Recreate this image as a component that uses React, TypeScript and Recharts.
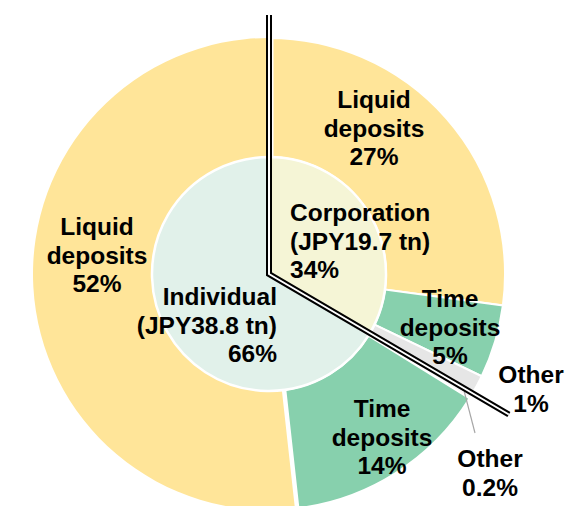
import React from 'react';
import { PieChart, Pie, Cell } from 'recharts';

// ---- data ----
const outerGroups = ['Corporation', 'Corporation', 'Corporation', 'Individual', 'Individual', 'Individual'];
const outerNames = ['Liquid deposits', 'Time deposits', 'Other', 'Other', 'Time deposits', 'Liquid deposits'];
const outerValues = [27.1, 5.0, 1.3, 0.4, 14.4, 51.7];
const outerPctLabels = ['27%', '5%', '1%', '0.2%', '14%', '52%'];

const innerNames = ['Corporation', 'Individual'];
const innerAmounts = ['JPY19.7 tn', 'JPY38.8 tn'];
const innerValues = [19.7, 38.8];
const innerPctLabels = ['34%', '66%'];

// ---- styles / layout ----
const W = 566;
const H = 506;
const CX = 269;
const CY = 274;
const INNER_R = 117;
const OUTER_R = 236;
const FONT = '"Liberation Sans", Arial, sans-serif';
const FONT_SIZE = 24.5;
const LINE_H = 28.7;

const outerColors = ['#FFE599', '#87D0AD', '#E6E6E6', '#F6F6F6', '#87D0AD', '#FFE599'];
const innerColors = ['#F5F5D6', '#E1F1EA'];

const outerLabelLayout = [
  { x: 374, y: 108, anchor: 'middle' },
  { x: 450, y: 307, anchor: 'middle' },
  { x: 531, y: 383, anchor: 'middle' },
  { x: 490, y: 467, anchor: 'middle' },
  { x: 382, y: 417, anchor: 'middle' },
  { x: 97, y: 235, anchor: 'middle' },
];
const innerLabelLayout = [
  { x: 290, y: 221, anchor: 'start' },
  { x: 277, y: 305, anchor: 'end' },
];
const leaderEnd = { 3: { x: 475, y: 433 } } as Record<number, { x: number; y: number }>;

const RAD = Math.PI / 180;

const outerData = outerNames.map((n, i) => ({ name: n, group: outerGroups[i], value: outerValues[i] }));
const innerData = innerNames.map((n, i) => ({ name: n, value: innerValues[i] }));

function MultiLine({ x, y, anchor, lines }: { x: number; y: number; anchor: string; lines: string[] }) {
  return (
    <text
      x={x}
      y={y}
      textAnchor={anchor as any}
      fontFamily={FONT}
      fontSize={FONT_SIZE}
      fontWeight="bold"
      fill="#000"
    >
      {lines.map((l, i) => (
        <tspan key={i} x={x} dy={i === 0 ? 0 : LINE_H}>
          {l}
        </tspan>
      ))}
    </text>
  );
}

const renderOuterLabel = (props: any) => {
  const { index, cx, cy, midAngle, outerRadius } = props;
  const lay = outerLabelLayout[index];
  const lines = [...outerNames[index].split(' '), outerPctLabels[index]];
  const le = leaderEnd[index];
  let leader = null;
  if (le) {
    const r = outerRadius - 8;
    const sx = cx + r * Math.cos(-midAngle * RAD);
    const sy = cy + r * Math.sin(-midAngle * RAD);
    leader = <line x1={sx} y1={sy} x2={le.x} y2={le.y} stroke="#A6A6A6" strokeWidth={1.2} />;
  }
  return (
    <g key={`ol-${index}`}>
      {leader}
      <MultiLine x={lay.x} y={lay.y} anchor={lay.anchor} lines={lines} />
    </g>
  );
};

const renderInnerLabel = (props: any) => {
  const { index } = props;
  const lay = innerLabelLayout[index];
  const lines = [innerNames[index], `(${innerAmounts[index]})`, innerPctLabels[index]];
  return (
    <g key={`il-${index}`}>
      <MultiLine x={lay.x} y={lay.y} anchor={lay.anchor} lines={lines} />
    </g>
  );
};

const DividerLine = () => {
  const total = outerValues.reduce((a, b) => a + b, 0);
  const corp = outerValues.reduce((a, v, i) => (outerGroups[i] === 'Corporation' ? a + v : a), 0);
  const ang = (corp / total) * 360; // clockwise from 12 o'clock
  const topLen = 259;
  const diagLen = 278;
  const ex = CX + diagLen * Math.sin(ang * RAD);
  const ey = CY - diagLen * Math.cos(ang * RAD);
  const pts = `${CX},${CY - topLen} ${CX},${CY} ${ex},${ey}`;
  return (
    <svg
      width={W}
      height={H}
      style={{ position: 'absolute', left: 0, top: 0, pointerEvents: 'none' }}
    >
      <polyline points={pts} fill="none" stroke="#000" strokeWidth={6} strokeLinejoin="miter" />
      <polyline points={pts} fill="none" stroke="#fff" strokeWidth={2} strokeLinejoin="miter" />
    </svg>
  );
};

export default function App() {
  return (
    <div style={{ position: 'absolute', left: 0, top: 0, width: W, height: H, background: '#fff' }}>
      <PieChart width={W} height={H} margin={{ top: 0, right: 0, bottom: 0, left: 0 }}>
        <Pie
          data={outerData}
          dataKey="value"
          cx={CX}
          cy={CY}
          innerRadius={INNER_R}
          outerRadius={OUTER_R}
          startAngle={90}
          endAngle={-270}
          stroke="#fff"
          strokeWidth={2}
          isAnimationActive={false}
          label={renderOuterLabel}
          labelLine={false}
        >
          {outerData.map((d, i) =>
            i === 5 ? (
              <Cell
                key={i}
                fill={outerColors[i]}
                stroke="#fff"
                strokeWidth={9}
                paintOrder="stroke"
                style={{ paintOrder: 'stroke' }}
              />
            ) : (
              <Cell key={i} fill={outerColors[i]} />
            )
          )}
        </Pie>
        <Pie
          data={innerData}
          dataKey="value"
          cx={CX}
          cy={CY}
          innerRadius={0}
          outerRadius={INNER_R}
          startAngle={90}
          endAngle={-270}
          stroke="#fff"
          strokeWidth={2.5}
          isAnimationActive={false}
          label={renderInnerLabel}
          labelLine={false}
        >
          {innerData.map((d, i) => (
            <Cell key={i} fill={innerColors[i]} />
          ))}
        </Pie>
      </PieChart>
      <DividerLine />
    </div>
  );
}
